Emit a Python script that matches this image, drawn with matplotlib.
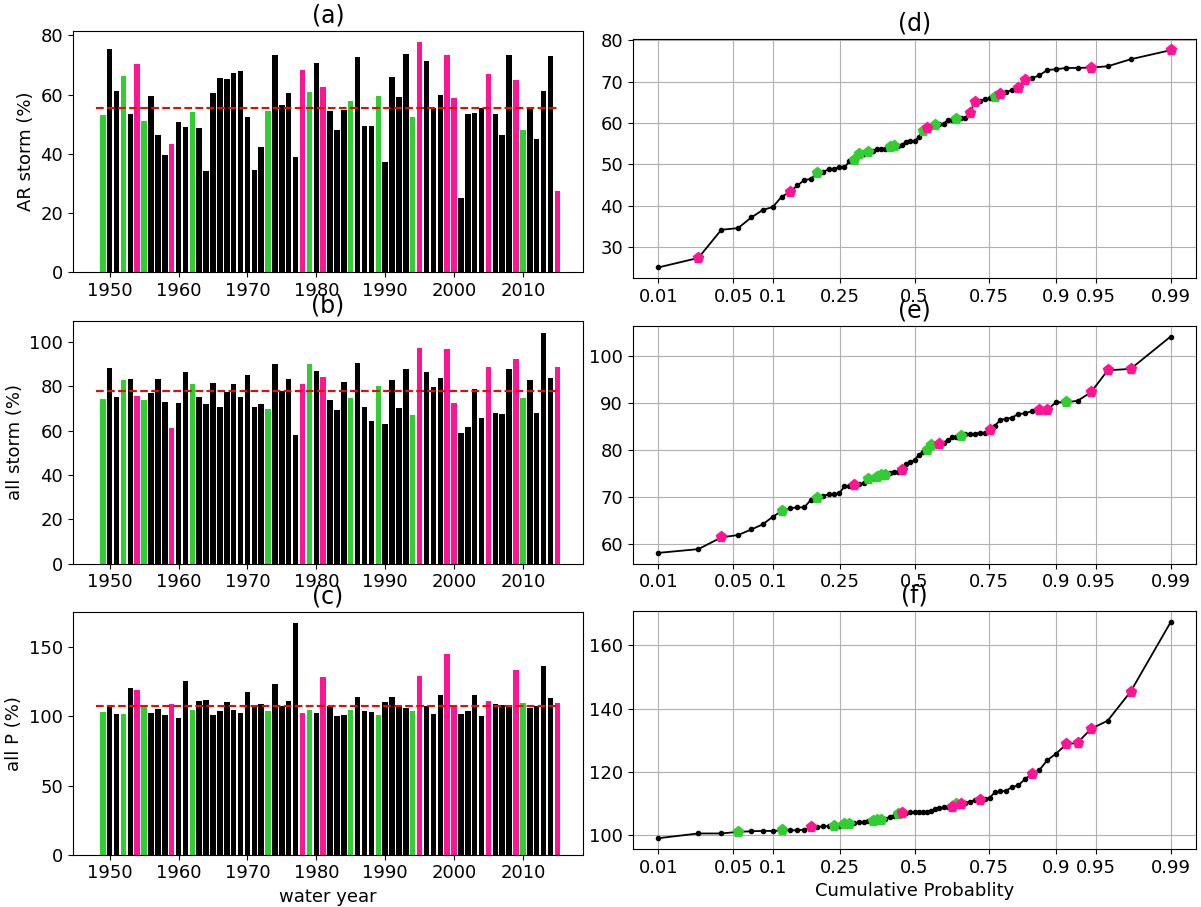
import math
from statistics import NormalDist
import numpy as np
import matplotlib
matplotlib.use("Agg")
import matplotlib.pyplot as plt

# water years and ENSO-type flag: g = green, p = pink, k = black
years = list(range(1949, 2016))
kind = ("g k k g k p g k k k p k k g k k k k k k k k k k g k k k k p g k p k k k g "
        "k k k g k k k k g p k k k p p k k k k p k k k p g k k k k p").split()

ar_storm = [53.0, 75.4, 61.3, 66.3, 53.6, 70.3, 51.0, 59.7, 46.2, 39.7,
            43.3, 50.7, 49.0, 54.2, 48.8, 34.2, 60.7, 65.7, 65.2, 67.4,
            68.0, 52.6, 34.6, 42.2, 54.4, 73.3, 56.6, 60.7, 39.0, 68.4,
            60.9, 70.8, 62.5, 54.5, 48.2, 54.8, 58.0, 72.8, 49.3, 49.3,
            59.5, 37.2, 66.0, 59.3, 73.7, 52.5, 77.6, 71.5, 55.6, 59.8,
            73.4, 58.8, 25.1, 53.6, 53.7, 55.6, 67.1, 53.3, 46.5, 73.3,
            65.1, 48.0, 55.5, 44.9, 61.1, 73.0, 27.4]

all_storm = [74.3, 88.3, 75.3, 83.0, 83.4, 75.8, 73.9, 77.1, 83.4, 73.0,
             61.4, 72.7, 86.7, 81.0, 75.3, 72.3, 81.6, 70.6, 77.4, 81.0,
             75.2, 85.2, 70.6, 72.3, 69.9, 90.2, 77.9, 83.4, 58.1, 81.3,
             90.2, 86.9, 84.3, 74.1, 69.4, 82.1, 74.8, 90.5, 70.8, 64.2,
             80.1, 63.1, 82.8, 70.2, 87.7, 67.0, 97.3, 86.4, 79.7, 83.7,
             97.0, 72.5, 58.9, 61.9, 78.9, 65.8, 88.6, 67.8, 67.6, 87.8,
             92.3, 74.7, 82.7, 67.8, 104.2, 83.7, 88.6]

all_p = [102.9, 108.5, 101.7, 101.45, 120.5, 119.3, 106.8, 102.8, 105.1, 101.3,
         109.0, 99.0, 125.8, 104.6, 111.0, 111.8, 101.3, 104.1, 110.6, 104.5,
         102.8, 117.6, 107.7, 108.8, 103.6, 123.7, 107.2, 111.3, 167.4, 102.4,
         104.8, 102.5, 128.7, 107.2, 100.5, 101.2, 104.8, 113.8, 104.1, 103.0,
         101.0, 110.1, 114.0, 107.2, 106.0, 103.6, 129.2, 107.2, 101.5, 115.7,
         145.4, 106.85, 101.5, 103.7, 115.2, 100.5, 111.2, 108.8, 108.2, 106.9,
         133.6, 109.7, 105.8, 107.2, 136.2, 113.5, 109.9]

prob_ticks = [0.01, 0.05, 0.1, 0.25, 0.5, 0.75, 0.9, 0.95, 0.99]
prob_labels = ['0.01', '0.05', '0.1', '0.25', '0.5', '0.75', '0.9', '0.95', '0.99']

colors = {'g': '#32cd32', 'p': '#ff1493', 'k': 'black'}

_nd = NormalDist()
_ppf = np.vectorize(_nd.inv_cdf, otypes=[float])
_erf = np.vectorize(math.erf, otypes=[float])


def fwd(p):
    p = np.clip(np.asarray(p, dtype=float), 1e-12, 1 - 1e-12)
    return _ppf(p)


def inv(z):
    return 0.5 * (1 + _erf(np.asarray(z, dtype=float) / math.sqrt(2)))


W, H = 1201, 907
fig = plt.figure(figsize=(W / 100, H / 100), dpi=100)


def box(x0, x1, y0, y1):
    return [x0 / W, 1 - y1 / H, (x1 - x0) / W, (y1 - y0) / H]


left_boxes = [box(72.7, 583.3, 31, 272.3), box(72.7, 583.3, 321.3, 563.7),
              box(72.7, 583.3, 611.7, 854.7)]
right_boxes = [box(632.7, 1196.3, 39.3, 278.3), box(632.7, 1196.3, 325.7, 563.7),
               box(632.7, 1196.3, 611.3, 849)]

series = [ar_storm, all_storm, all_p]
ylabels = ['AR storm (%)', 'all storm (%)', 'all P (%)']
ltitles = ['(a)', '(b)', '(c)']
rtitles = ['(d)', '(e)', '(f)']

fs = 13
for i in range(3):
    vals = np.array(series[i])
    bar_cols = [colors[k] for k in kind]

    ax = fig.add_axes(left_boxes[i])
    ax.bar(years, vals, width=0.8, color=bar_cols)
    ax.hlines(np.median(vals), 1948, 2015, colors='r', linestyles='--', lw=1.5)
    ax.set_title(ltitles[i], fontsize=17)
    ax.set_ylabel(ylabels[i], fontsize=fs)
    ax.tick_params(labelsize=fs)
    if i == 2:
        ax.set_xlabel('water year', fontsize=fs)

    # cumulative probability plot
    order = np.argsort(vals, kind='stable')
    sv = vals[order]
    sk = [kind[j] for j in order]
    prob = np.linspace(0.01, 0.99, len(sv))

    axr = fig.add_axes(right_boxes[i])
    axr.set_xscale('function', functions=(fwd, inv))
    axr.plot(prob, sv, '-', color='k', lw=1.3, marker='.', ms=6, zorder=2)
    for k in ['g', 'p']:
        m = np.array([s == k for s in sk])
        axr.plot(prob[m], sv[m], 'p', color=colors[k], ms=8, zorder=3, ls='none')
    axr.set_xticks(prob_ticks)
    axr.set_xticklabels(prob_labels)
    axr.minorticks_off()
    axr.grid(True, color='#b0b0b0', lw=0.8)
    axr.set_axisbelow(True)
    axr.set_title(rtitles[i], fontsize=17)
    axr.tick_params(labelsize=fs)
    if i == 2:
        axr.set_xlabel('Cumulative Probablity', fontsize=fs)

fig.savefig('out.png', dpi=100)
